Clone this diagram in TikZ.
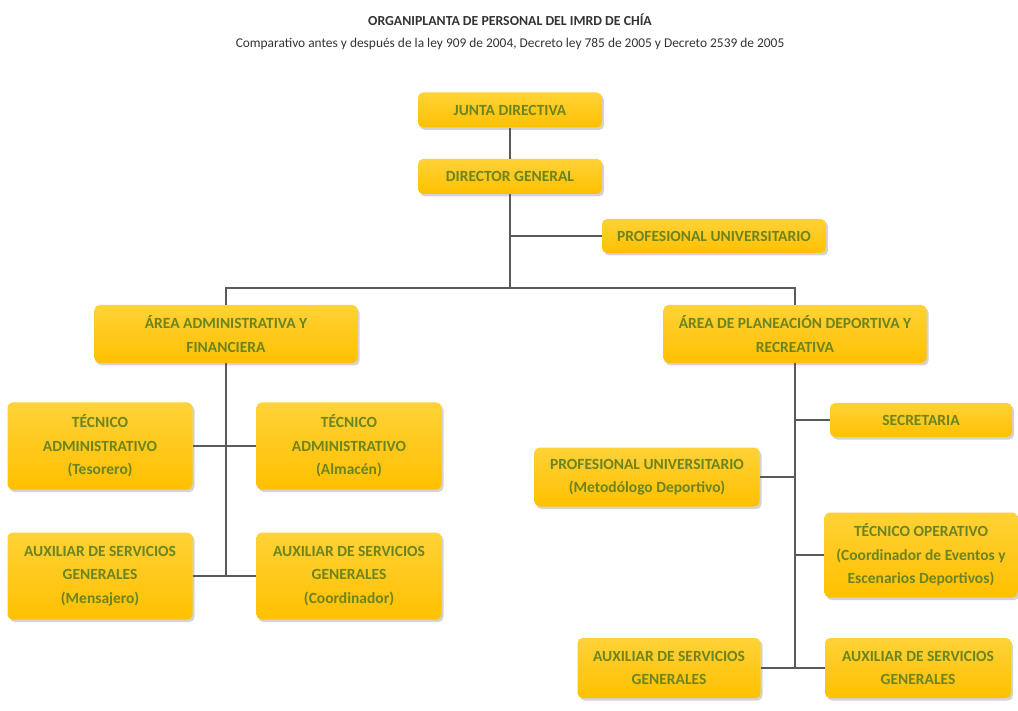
\documentclass[tikz,border=0pt]{standalone}
\usepackage{fontspec}
\setmainfont{Carlito}
\usepackage{tikz}
\usetikzlibrary{positioning}
\usetikzlibrary{shadows}
\definecolor{oro}{RGB}{255,192,0}
\definecolor{oroclaro}{RGB}{255,210,55}
\definecolor{oliva}{RGB}{108,132,32}
\definecolor{linea}{RGB}{90,90,90}

\begin{document}
\begin{tikzpicture}[x=1pt, y=-1pt,
            caja/.style={rectangle, rounded corners=5pt, top color=oroclaro, bottom color=oro, draw=none,
                drop shadow={shadow xshift=2pt, shadow yshift=-2.5pt, opacity=.35},
                text=oliva, align=center, inner sep=2pt,
                font=\fontsize{15.5}{23.5}\selectfont\bfseries},
            chica/.style={caja, minimum width=184pt, minimum height=35pt},
            ancha/.style={caja, minimum width=263pt, minimum height=58pt},
            alta/.style={caja, minimum width=185pt, minimum height=87pt},
            baja/.style={caja, minimum width=184pt, minimum height=60pt},
            enlace/.style={-, line width=1.1pt, linea}
        ]
            \useasboundingbox (0,0) rectangle (1018,711);
            \node[font=\fontsize{13.8}{16}\selectfont\bfseries, text=black!80](titulo) at (510,20){ORGANIPLANTA DE PERSONAL DEL IMRD DE CHÍA};
            \node[font=\fontsize{13.4}{15}\selectfont, text=black!80](subtitulo)[below=5pt of titulo]{Comparativo antes y después de la ley 909 de 2004, Decreto ley 785 de 2005 y Decreto 2539 de 2005};

            \node[chica](junta) at (510,110){JUNTA DIRECTIVA};
                \node[chica](director)[below=31pt of junta]{DIRECTOR GENERAL};
                    \node[chica, minimum width=224pt, minimum height=34pt](profu) at (714,236){PROFESIONAL UNIVERSITARIO};
                    \coordinate (barra) at (511,288);
                    \node[ancha](areaa) at (226,334){ÁREA ADMINISTRATIVA Y\\FINANCIERA};
                        \node[alta](tesorero) at (100,446){TÉCNICO\\ADMINISTRATIVO\\(Tesorero)};
                        \node[alta](almacen) at (349,446){TÉCNICO\\ADMINISTRATIVO\\(Almacén)};
                        \node[alta](mensajero) at (100,576){AUXILIAR DE SERVICIOS\\GENERALES\\(Mensajero)};
                        \node[alta](coordinador) at (349,576){AUXILIAR DE SERVICIOS\\GENERALES\\(Coordinador)};
                    \node[ancha](areap) at (795,334){ÁREA DE PLANEACIÓN DEPORTIVA Y\\RECREATIVA};
                        \node[chica, minimum width=182pt, minimum height=34pt](secretaria) at (921,420){SECRETARIA};
                        \node[baja, minimum width=225pt, minimum height=59pt](metodologo) at (647,477){PROFESIONAL UNIVERSITARIO\\(Metodólogo Deportivo)};
                        \node[alta, minimum width=193pt, minimum height=85pt](operativo) at (921,555){TÉCNICO OPERATIVO\\(Coordinador de Eventos y\\Escenarios Deportivos)};
                        \node[baja, minimum width=183pt](auxizq) at (669,668){AUXILIAR DE SERVICIOS\\GENERALES};
                        \node[baja, minimum width=186pt](auxder) at (918,668){AUXILIAR DE SERVICIOS\\GENERALES};

            \draw[enlace] (junta.south) -- (director.south |- director.north);
            \draw[enlace] (director.south) -- (director.south |- barra);
            \draw[enlace] (director.south |- profu) -- (profu.west);
            \draw[enlace] (areaa.north) |- (barra) -| (areap.north);
            \draw[enlace] (areaa.south) -- (areaa.south |- mensajero);
            \draw[enlace] (tesorero.east) -- (almacen.west);
            \draw[enlace] (mensajero.east) -- (coordinador.west);
            \draw[enlace] (areap.south) -- (areap.south |- auxizq);
            \draw[enlace] (areap.south |- secretaria) -- (secretaria.west);
            \draw[enlace] (metodologo.east) -- (areap.south |- metodologo);
            \draw[enlace] (areap.south |- operativo) -- (operativo.west);
            \draw[enlace] (auxizq.east) -- (auxder.west);
        \end{tikzpicture}
\end{document}
